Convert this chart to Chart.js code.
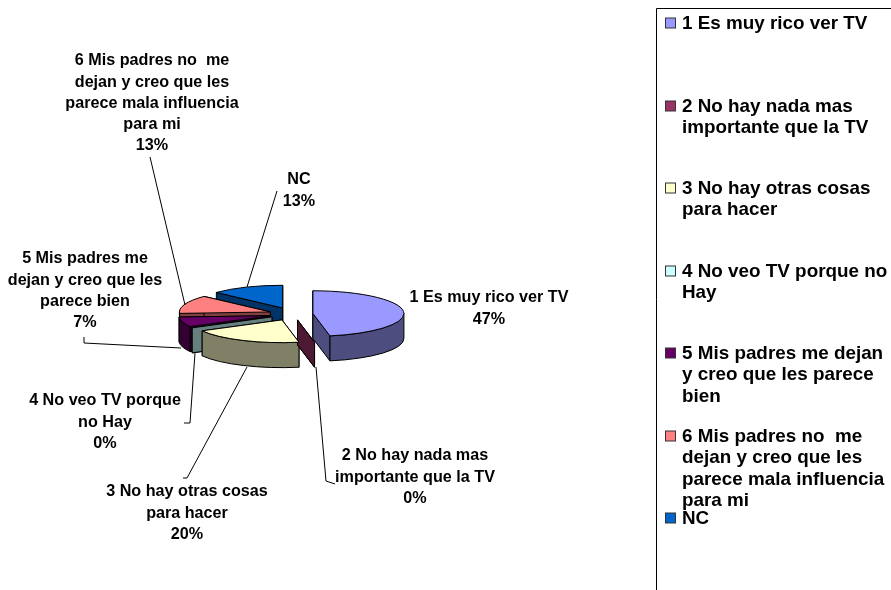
<!DOCTYPE html>
<html>
<head>
<meta charset="utf-8">
<style>
  html, body { margin: 0; padding: 0; background: #fff; }
  canvas { display: block; }
</style>
<script src="https://cdn.jsdelivr.net/npm/chart.js@4"></script>
</head>
<body>
<canvas id="myChart" width="891" height="590"></canvas>
<script>
// data
const categories = [
  '1 Es muy rico ver TV',
  '2 No hay nada mas importante que la TV',
  '3 No hay otras cosas para hacer',
  '4 No veo TV porque no Hay',
  '5 Mis padres me dejan y creo que les parece bien',
  '6 Mis padres no  me dejan y creo que les parece mala influencia para mi',
  'NC'
];
const percents = [47, 0, 20, 0, 7, 13, 13];
const sliceColors = ['#9999FF', '#993366', '#FFFFCC', '#CCFFFF', '#660066', '#FF8080', '#0066CC'];
const wallColors = ['#4D4D80', '#4D1933', '#808066', '#668080', '#330033', '#804040', '#003366'];

// wrapped text of the callouts and of the legend
const calloutLines = [
  ['1 Es muy rico ver TV'],
  ['2 No hay nada mas', 'importante que la TV'],
  ['3 No hay otras cosas', 'para hacer'],
  ['4 No veo TV porque', 'no Hay'],
  ['5 Mis padres me', 'dejan y creo que les', 'parece bien'],
  ['6 Mis padres no  me', 'dejan y creo que les', 'parece mala influencia', 'para mi'],
  ['NC']
];
const legendLines = [
  ['1 Es muy rico ver TV'],
  ['2 No hay nada mas', 'importante que la TV'],
  ['3 No hay otras cosas', 'para hacer'],
  ['4 No veo TV porque no', 'Hay'],
  ['5 Mis padres me dejan', 'y creo que les parece', 'bien'],
  ['6 Mis padres no  me', 'dejan y creo que les', 'parece mala influencia', 'para mi'],
  ['NC']
];

// layout
const explode = [20, 24, 26, 24, 24, 24, 26];
const squash = 0.25;
const depth = 25;
const calloutX = [489, 415, 187, 105, 85, 152, 299];
const calloutY = [298, 456, 492, 401, 259, 61, 180];
const leaders = [
  null,
  [[316, 367], [326, 481], [335, 484]],
  [[247, 367], [187, 478], [183, 478]],
  [[195, 353], [190, 423], [184, 423]],
  [[181, 348], [84, 343], [84, 337]],
  [[185, 305], [150, 157]],
  [[247, 287], [277, 191]]
];
const legendY = [23, 106, 188, 271, 353, 436, 518];

// the picture was widened a little
function wideText(ctx, text, x, y, stretch) {
  ctx.save();
  ctx.translate(x, y);
  ctx.scale(stretch, 1);
  ctx.fillText(text, 0, 0);
  ctx.restore();
}

// 3d look: walls first, far slices before near ones, then the flat tops
const pie3d = {
  id: 'pie3d',
  beforeDatasetDraw(chart) {
    const ctx = chart.ctx;
    const arcs = chart.getDatasetMeta(0).data;
    const centers = arcs.map((arc, i) => {
      const mid = (arc.startAngle + arc.endAngle) / 2;
      return {
        x: arc.x + Math.cos(mid) * explode[i],
        y: arc.y + Math.sin(mid) * explode[i] * squash
      };
    });
    const rim = (c, r, a, d) => [c.x + Math.cos(a) * r, c.y + Math.sin(a) * r * squash + d];

    ctx.save();
    ctx.lineWidth = 1;
    ctx.strokeStyle = '#000';
    ctx.lineJoin = 'round';

    for (let i = arcs.length - 1; i >= 0; i--) {
      const arc = arcs[i];
      const c = centers[i];
      const r = arc.outerRadius;
      ctx.fillStyle = wallColors[i];

      [arc.startAngle, arc.endAngle].forEach(a => {
        const p = rim(c, r, a, 0);
        ctx.beginPath();
        ctx.moveTo(c.x, c.y);
        ctx.lineTo(p[0], p[1]);
        ctx.lineTo(p[0], p[1] + depth);
        ctx.lineTo(c.x, c.y + depth);
        ctx.closePath();
        ctx.fill();
        ctx.stroke();
      });

      // only the part of the round side that faces the viewer
      const from = Math.max(arc.startAngle, 0);
      const to = Math.min(arc.endAngle, Math.PI);
      if (to > from) {
        ctx.beginPath();
        ctx.ellipse(c.x, c.y, r, r * squash, 0, from, to);
        ctx.ellipse(c.x, c.y + depth, r, r * squash, 0, to, from, true);
        ctx.closePath();
        ctx.fill();
        ctx.stroke();
      }
    }

    for (let i = arcs.length - 1; i >= 0; i--) {
      const arc = arcs[i];
      const c = centers[i];
      if (percents[i] === 0) continue;
      ctx.save();
      ctx.translate(c.x, c.y);
      ctx.scale(1, squash);
      ctx.translate(-arc.x, -arc.y);
      arc.draw(ctx);
      ctx.restore();

      ctx.beginPath();
      ctx.moveTo(c.x, c.y);
      ctx.ellipse(c.x, c.y, arc.outerRadius, arc.outerRadius * squash, 0, arc.startAngle, arc.endAngle);
      ctx.closePath();
      ctx.stroke();
    }
    ctx.restore();
    return false;
  },
  afterDraw(chart) {
    const ctx = chart.ctx;
    ctx.save();
    ctx.fillStyle = '#000';
    ctx.textBaseline = 'middle';

    // callouts with their leader lines
    ctx.strokeStyle = '#000';
    ctx.lineWidth = 1;
    leaders.forEach(line => {
      if (!line) return;
      ctx.beginPath();
      line.forEach((p, j) => j ? ctx.lineTo(p[0], p[1]) : ctx.moveTo(p[0], p[1]));
      ctx.stroke();
    });
    ctx.font = 'bold 16px "Liberation Sans", Arial, sans-serif';
    ctx.textAlign = 'center';
    calloutLines.forEach((lines, i) => {
      const all = lines.concat(percents[i] + '%');
      all.forEach((text, j) => wideText(ctx, text, calloutX[i], calloutY[i] + j * 21.2, 1.01));
    });

    // legend box is open on the right and at the bottom
    ctx.strokeStyle = '#000';
    ctx.lineWidth = 1;
    ctx.beginPath();
    ctx.moveTo(656.5, 590);
    ctx.lineTo(656.5, 8.5);
    ctx.lineTo(891, 8.5);
    ctx.stroke();

    ctx.font = 'bold 17.8px "Liberation Sans", Arial, sans-serif';
    ctx.textAlign = 'left';
    legendLines.forEach((lines, i) => {
      ctx.fillStyle = sliceColors[i];
      ctx.fillRect(665.5, legendY[i] - 5, 10, 10);
      ctx.strokeStyle = '#333';
      ctx.strokeRect(665.5, legendY[i] - 5, 10, 10);
      ctx.fillStyle = '#000';
      lines.forEach((text, j) => wideText(ctx, text, 682, legendY[i] + 1 + j * 21.5, 1.06));
    });
    ctx.restore();
  }
};

new Chart(document.getElementById('myChart'), {
  type: 'pie',
  data: {
    labels: categories,
    datasets: [{
      data: percents,
      backgroundColor: sliceColors,
      borderWidth: 0
    }]
  },
  options: {
    responsive: false,
    animation: false,
    layout: { padding: { left: 202, right: 507, top: 223, bottom: 185 } },
    plugins: {
      legend: { display: false },
      tooltip: { enabled: false }
    }
  },
  plugins: [pie3d]
});
</script>
</body>
</html>
